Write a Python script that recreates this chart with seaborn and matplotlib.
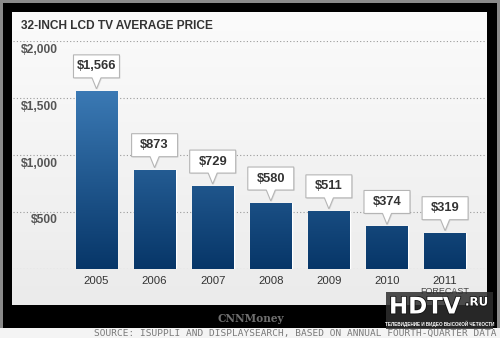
import numpy as np
import pandas as pd
import matplotlib
matplotlib.use("Agg")
import matplotlib.pyplot as plt
import seaborn as sns
import matplotlib.patheffects as pe
from matplotlib.patches import Rectangle, Polygon
from matplotlib.colors import LinearSegmentedColormap
from matplotlib.transforms import ScaledTranslation, blended_transform_factory

# Data
years = ["2005", "2006", "2007", "2008", "2009", "2010", "2011"]
prices = [1566, 873, 729, 580, 511, 374, 319]
price_labels = ["$1,566", "$873", "$729", "$580", "$511", "$374", "$319"]
y_ticks = [500, 1000, 1500, 2000]
y_tick_labels = ["$500", "$1,000", "$1,500", "$2,000"]

title = "32-INCH LCD TV AVERAGE PRICE"
source = "SOURCE: ISUPPLI AND DISPLAYSEARCH, BASED ON ANNUAL FOURTH-QUARTER DATA"

sns.set_theme(style="white")
plt.rcParams["font.family"] = ["Liberation Sans", "DejaVu Sans"]

W, H = 500, 338
fig = plt.figure(figsize=(W / 100, H / 100), dpi=100)
fig.patch.set_facecolor("#000000")


def px_rect(x0, y0, x1, y1, **kw):
    """Rectangle given in pixel coords measured from the top-left corner."""
    r = Rectangle((x0 / W, 1 - y1 / H), (x1 - x0) / W, (y1 - y0) / H,
                  transform=fig.transFigure, **kw)
    fig.patches.append(r)
    return r


# outer frame
px_rect(0, 0, 500, 3, color="#8a8a8a", lw=0)
px_rect(0, 0, 3, 338, color="#8a8a8a", lw=0)
px_rect(497, 0, 500, 338, color="#8a8a8a", lw=0)
px_rect(0, 328, 500, 338, color="#f4f4f4", lw=0)

# panel background with a soft vertical gradient
bg = fig.add_axes([12 / W, 1 - 305 / H, (487 - 12) / W, (305 - 12) / H])
bg.set_axis_off()
grad = np.linspace(0, 1, 256).reshape(-1, 1)
bg_cmap = LinearSegmentedColormap.from_list("panel", ["#fbfbfb", "#ebebeb"])
bg.imshow(grad, aspect="auto", cmap=bg_cmap, extent=(0, 1, 0, 1), origin="upper")
bg.set_xlim(0, 1)
bg.set_ylim(0, 1)

fig.text(21 / W, 1 - 26 / H, title, fontsize=8.6, fontweight="bold",
         color="#333333", ha="left", va="center")

# main chart axes
ax = fig.add_axes([13 / W, 1 - 269 / H, (486 - 13) / W, (269 - 41.5) / H])
ax.patch.set_alpha(0)
df = pd.DataFrame({"year": years, "price": prices})
sns.barplot(data=df, x="year", y="price", ax=ax, color="#0b3e74",
            width=0.72, saturation=1, zorder=3)

ax.set_xlim(-1.437, 6.704)
ax.set_ylim(0, 2000)
for s in ax.spines.values():
    s.set_visible(False)
ax.set_xlabel("")
ax.set_ylabel("")
ax.set_yticks([])
ax.tick_params(axis="x", length=0, pad=5, labelsize=8.2, labelcolor="#333333")

for g in [0] + y_ticks:
    ax.axhline(g, color="#9a9a9a", lw=0.8, ls=(0, (1, 2)), zorder=1)

# y tick labels sit just below their gridline
lab_tr = blended_transform_factory(fig.transFigure, ax.transData)
for v, t in zip(y_ticks, y_tick_labels):
    ax.annotate(t, xy=(58 / W, v), xycoords=lab_tr, xytext=(0, -6),
                textcoords="offset points", ha="right", va="center",
                fontsize=8.7, fontweight="bold", color="#555555")

# gradient fill for the bars (shade depends on absolute height)
bar_cmap = LinearSegmentedColormap.from_list("bars", ["#073668", "#3c7bb6"])
for patch, v in zip(ax.patches, prices):
    x0 = patch.get_x()
    w = patch.get_width()
    col = np.linspace(v, 0, 200).reshape(-1, 1)
    im = ax.imshow(col, aspect="auto", cmap=bar_cmap, vmin=0, vmax=1600,
                   extent=(x0, x0 + w, 0, v), origin="upper", zorder=4)
    im.set_clip_path(patch)

# callout boxes with a pointer
for i, (v, t) in enumerate(zip(prices, price_labels)):
    tr = fig.dpi_scale_trans + ScaledTranslation(i, v, ax.transData)
    pts = np.array([(-23, 13), (-23, 36), (23, 36), (23, 13),
                    (4.5, 13), (0, 2), (-4.5, 13)]) / 100.0
    shadow = Polygon(pts + np.array([0.01, -0.01]), closed=True, transform=tr,
                     facecolor="#000000", alpha=0.08, lw=0, zorder=5)
    ax.add_patch(shadow)
    box = Polygon(pts, closed=True, transform=tr, facecolor="white",
                  edgecolor="#b5b5b5", lw=0.8, zorder=6)
    ax.add_patch(box)
    ax.text(0, 24.5 / 100, t, transform=tr, ha="center", va="center",
            fontsize=9.3, fontweight="bold", color="#333333", zorder=7)

ax.annotate("FORECAST", xy=(6, 0), xycoords="data", xytext=(0, -16.5),
            textcoords="offset points", ha="center", va="center",
            fontsize=6.5, color="#444444")

# footer
fig.text(251 / W, 1 - 318 / H, "CNNMoney", fontsize=7.6, fontweight="bold",
         color="#6e6e6e", ha="center", va="center", family="DejaVu Serif")
fig.text(497 / W, 1 - 333.5 / H, source, fontsize=6.8, color="#7a7a7a",
         ha="right", va="center", family="DejaVu Sans Mono")

# site badge
px_rect(386, 292, 493, 329, facecolor="#2e2e2e", alpha=0.85, lw=0, zorder=10)
outline = [pe.withStroke(linewidth=1.2, foreground="#111111")]
fig.text(389 / W, 1 - 307 / H, "HDTV", fontsize=16.5, fontweight="bold",
         color="white", ha="left", va="center", family="Liberation Sans Narrow",
         zorder=11, path_effects=outline)
fig.text(465 / W, 1 - 302 / H, ".RU", fontsize=8.5, fontweight="bold",
         color="white", ha="left", va="center", family="Liberation Sans Narrow",
         zorder=11, path_effects=outline)
fig.text(440 / W, 1 - 323.5 / H, "ТЕЛЕВИДЕНИЕ И ВИДЕО ВЫСОКОЙ ЧЕТКОСТИ",
         fontsize=3.3, fontweight="bold", color="white", ha="center",
         va="center", zorder=11)

fig.savefig("out.png", dpi=100, facecolor=fig.get_facecolor())
